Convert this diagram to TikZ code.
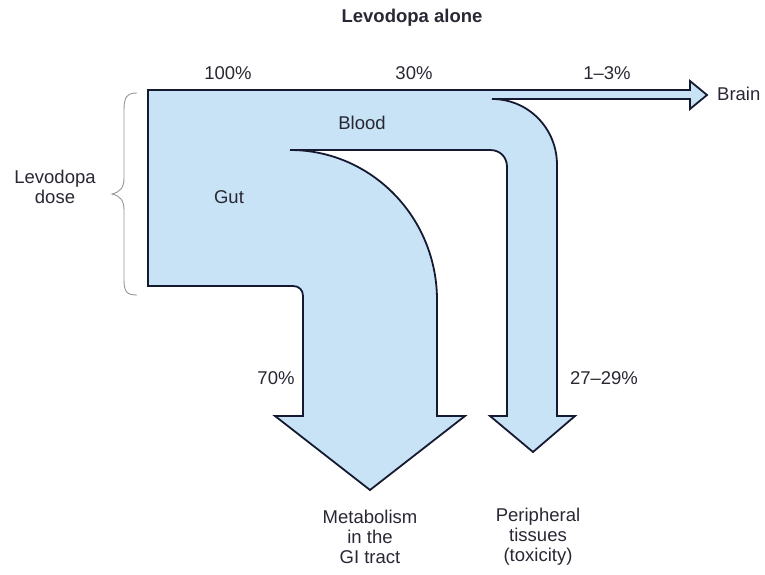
\documentclass[tikz,border=0pt]{standalone}
\usepackage{fontspec}
\setmainfont{Liberation Sans}
\definecolor{flowfill}{RGB}{200,226,246}
\definecolor{flowline}{RGB}{22,26,48}
\definecolor{txt}{RGB}{40,40,52}
\definecolor{bracec}{RGB}{150,150,150}
\begin{document}
\begin{tikzpicture}[x=1pt,y=-1pt,
  lbl/.style={text=txt,font=\fontsize{18.5}{20}\selectfont,inner sep=0pt,align=center},
  ttl/.style={lbl,font=\fontsize{18.5}{20}\selectfont\bfseries},
  flow/.style={fill=flowfill,draw=flowline,line width=1.8pt,line join=miter}]
\useasboundingbox (0,0) rectangle (765,575);
% main flow shape
\draw[flow] (148,90) -- (690,90) -- (690,81) -- (707,95) -- (690,109) -- (690,99) -- (492,99)
  .. controls (528,99) and (557,128) .. (557,165)
  -- (557,416) -- (575,416) -- (533,452) -- (490,416) -- (507,416) -- (507,167)
  .. controls (507,157) and (500,150) .. (490,150)
  -- (290,150) .. controls (371,150) and (437,217) .. (437,300)
  -- (437,416) -- (465,416) -- (370,490) -- (275,416) -- (303,416) -- (303,296)
  .. controls (303,290) and (299,286) .. (293,286)
  -- (148,286) -- cycle;
% brace
\draw[bracec,line width=0.9pt] (137,93) .. controls (127,93) and (124,97) .. (124,110)
  -- (124,178) .. controls (124,188) and (120,192) .. (112,194)
  .. controls (120,196) and (124,200) .. (124,210)
  -- (124,280) .. controls (124,292) and (127,295) .. (137,295);
% labels
\node[ttl] (title) at (412,18) {Levodopa alone};
\node[lbl] (p100) at (228,73) {100\%};
\node[lbl] (p30) at (414,73) {30\%};
\node[lbl] (p13) at (607,73) {1–3\%};
\node[lbl,anchor=west] (brain) at (717,94) {Brain};
\node[lbl] (blood) at (362,123) {Blood};
\node[lbl] (gut) at (229,197) {Gut};
\node[lbl] (dose) at (55,187) {Levodopa\\dose};
\node[lbl] (p70) at (276,378) {70\%};
\node[lbl] (p2729) at (604,378) {27–29\%};
\node[lbl] (metab) at (370,537) {Metabolism\\in the\\GI tract};
\node[lbl] (periph) at (538,537) {Peripheral\\tissues\\(toxicity)};
\end{tikzpicture}
\end{document}
